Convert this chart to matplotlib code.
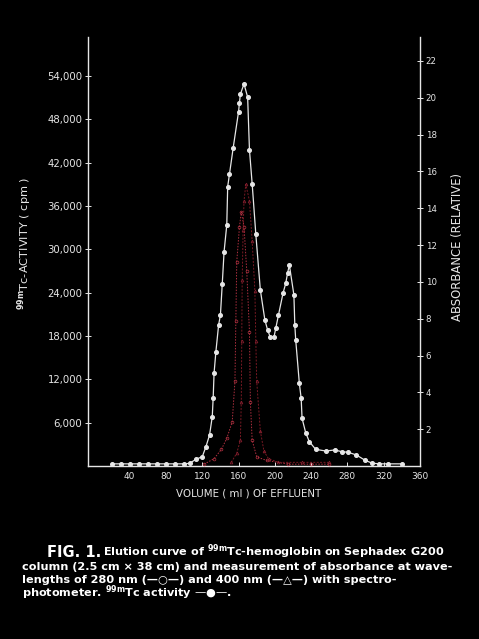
import matplotlib
matplotlib.use("Agg")
import matplotlib.pyplot as plt

# 99mTc activity (cpm) vs effluent volume (ml)
vol_tc = [20, 30, 40, 50, 60, 70, 80, 90, 100, 106,
          113, 120, 124, 128, 131, 132, 133, 135, 138, 140,
          142, 144, 147, 148, 150, 154, 160, 161, 162, 166,
          170, 172, 175, 179, 184, 189, 192, 195, 199, 201,
          204, 209, 212, 214, 216, 221, 222, 223, 227, 229,
          230, 234, 238, 245, 256, 266, 274, 281, 290, 299,
          307, 315, 325, 340]
cpm_tc = [300, 300, 300, 300, 300, 300, 300, 300, 300, 370,
          930, 1290, 2670, 4290, 6830, 9420, 12880, 15830, 19530, 20910,
          25170, 29640, 33380, 38680, 40440, 44000, 49070, 50320, 51480, 52910,
          51070, 43770, 39060, 32130, 24380, 20220, 18840, 17830, 17830, 19070,
          20910, 23920, 25300, 26690, 27840, 23680, 19530, 17450, 11450, 9380,
          6610, 4610, 3370, 2310, 2080, 2220, 1980, 1900, 1520, 830,
          400, 300, 300, 300]

# absorbance at 280 nm (open circles)
vol_280 = [122, 133, 141, 147, 153, 156, 157, 158, 161, 163,
           166, 169, 172, 173, 175, 180, 191, 215, 240, 260]
abs_280 = [0.1, 0.4, 0.9, 1.5, 2.4, 4.6, 7.9, 11.1, 13.0, 13.8,
           13.0, 10.6, 7.3, 3.5, 1.4, 0.5, 0.3, 0.1, 0.1, 0.1]

# absorbance at 400 nm (triangles)
vol_400 = [152, 158, 162, 163, 163.5, 164, 165, 166, 168, 172,
           175, 178, 179, 180, 184, 188, 193, 204, 230, 260]
abs_400 = [0.2, 0.7, 1.4, 3.5, 6.8, 10.1, 12.8, 14.4, 15.3, 14.4,
           12.2, 9.5, 6.8, 4.6, 1.9, 0.8, 0.4, 0.2, 0.2, 0.2]

x_ticks = [40, 80, 120, 160, 200, 240, 280, 320, 360]
left_ticks = [6000, 12000, 18000, 24000, 30000, 36000, 42000, 48000, 54000]
right_ticks = [2, 4, 6, 8, 10, 12, 14, 16, 18, 20, 22]

fg = "#e6e6e6"
plt.rcParams["font.family"] = "DejaVu Sans"

fig = plt.figure(figsize=(4.79, 6.39), dpi=100, facecolor="black")
ax = fig.add_axes([0.1837, 0.2707, 0.6931, 0.6714], facecolor="black")
ax2 = ax.twinx()

ax.plot(vol_tc, cpm_tc, color=fg, lw=0.9, marker="o", ms=2.6,
        mfc=fg, mec=fg, zorder=5)
ax2.plot(vol_280, abs_280, color="#b03040", lw=0.7, ls=(0, (1.5, 1.5)),
         marker="o", ms=2.0, mfc="none", mec="#b03040", mew=0.5)
ax2.plot(vol_400, abs_400, color="#7a1a24", lw=0.7, ls=(0, (2, 1.5)),
         marker="^", ms=2.0, mfc="none", mec="#8a2030", mew=0.5)

ax.set_xlim(-6, 360)
ax.set_ylim(0, 59400)
ax2.set_ylim(0, 23.3)

ax.set_xticks(x_ticks)
ax.set_xticklabels([str(v) for v in x_ticks])
ax.set_yticks(left_ticks)
ax.set_yticklabels([f"{v:,}" for v in left_ticks])
ax2.set_yticks(right_ticks)
ax2.set_yticklabels([str(v) for v in right_ticks])

for a in (ax, ax2):
    a.spines["top"].set_visible(False)
    for s in ("left", "right", "bottom"):
        a.spines[s].set_color(fg)
        a.spines[s].set_linewidth(1.0)
ax.spines["right"].set_visible(False)
ax2.spines["left"].set_visible(False)
ax2.spines["bottom"].set_visible(False)

ax.tick_params(axis="x", direction="in", length=3, width=0.7, colors=fg,
               labelsize=6.5, pad=4)
ax.tick_params(axis="y", direction="inout", length=4, width=0.7, colors=fg,
               labelsize=7.3, pad=2)
ax2.tick_params(axis="y", direction="inout", length=4, width=0.7, colors=fg,
                labelsize=6.2, pad=2)

fig.text(0.052, 0.62, r"$^{\mathbf{99m}}$Tc-ACTIVITY ( cpm )", rotation=90,
         color=fg, fontsize=8.2, ha="center", va="center")
fig.text(0.956, 0.613, "ABSORBANCE (RELATIVE)", rotation=90,
         color=fg, fontsize=8.4, ha="center", va="center")
fig.text(0.52, 0.228, "VOLUME ( ml ) OF EFFLUENT", color=fg, fontsize=7.4,
         ha="center", va="center")

# caption
cap = dict(color="white", fontsize=8.1, weight="bold", ha="left", va="center")
fig.text(0.098, 0.136, "FIG. 1.", color="white", fontsize=10.5, weight="bold",
         ha="left", va="center")
fig.text(0.215, 0.136, "Elution curve of $^{\\mathbf{99m}}$Tc-hemoglobin on Sephadex G200", **cap)
fig.text(0.046, 0.113, "column (2.5 cm \u00d7 38 cm) and measurement of absorbance at wave-", **cap)
fig.text(0.046, 0.093, "lengths of 280 nm (\u2014\u25cb\u2014) and 400 nm (\u2014\u25b3\u2014) with spectro-", **cap)
fig.text(0.046, 0.072, "photometer. $^{\\mathbf{99m}}$Tc activity \u2014\u25cf\u2014.", **cap)

fig.savefig("out.png", dpi=100, facecolor="black")
